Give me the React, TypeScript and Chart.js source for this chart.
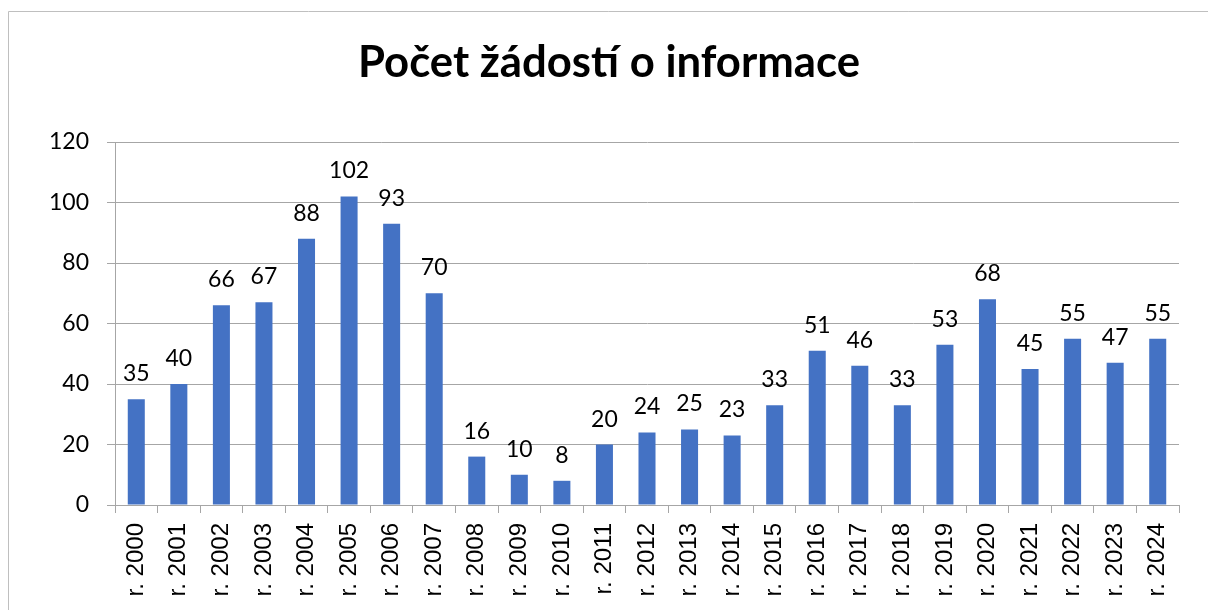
import React, { useEffect, useRef } from "react";
import { Chart, registerables } from "chart.js";

Chart.register(...registerables);

const categories = [
  "r. 2000", "r. 2001", "r. 2002", "r. 2003", "r. 2004", "r. 2005", "r. 2006",
  "r. 2007", "r. 2008", "r. 2009", "r. 2010", "r. 2011", "r. 2012", "r. 2013",
  "r. 2014", "r. 2015", "r. 2016", "r. 2017", "r. 2018", "r. 2019", "r. 2020",
  "r. 2021", "r. 2022", "r. 2023", "r. 2024",
];
const values = [35, 40, 66, 67, 88, 102, 93, 70, 16, 10, 8, 20, 24, 25, 23, 33, 51, 46, 33, 53, 68, 45, 55, 47, 55];
const titleText = "Počet žádostí o informace";
const yMin = 0;
const yMax = 120;
const yStep = 20;

const LABEL_FONT = "Lato, 'Open Sans', sans-serif";
const AXIS_FONT = "'Liberation Sans', Arial, sans-serif";

const decorPlugin = {
  id: "decor",
  beforeDraw(chart: any) {
    const ctx = chart.ctx;
    ctx.save();
    ctx.fillStyle = "#ffffff";
    ctx.fillRect(0, 0, chart.width, chart.height);
    ctx.strokeStyle = "#bfbfbf";
    ctx.lineWidth = 1;
    ctx.beginPath();
    ctx.moveTo(8.5, chart.height + 2);
    ctx.lineTo(8.5, 11.5);
    ctx.lineTo(chart.width + 2, 11.5);
    ctx.stroke();
    // title
    let size = 40;
    ctx.font = `bold ${size}px ${LABEL_FONT}`;
    const w = ctx.measureText(titleText).width;
    size = size * (502 / w);
    ctx.font = `bold ${size}px ${LABEL_FONT}`;
    ctx.fillStyle = "#000000";
    ctx.textAlign = "center";
    ctx.textBaseline = "alphabetic";
    ctx.fillText(titleText, 609, 77);
    ctx.restore();
  },
  afterDatasetsDraw(chart: any) {
    const ctx = chart.ctx;
    const meta = chart.getDatasetMeta(0);
    ctx.save();
    ctx.font = `23px ${LABEL_FONT}`;
    ctx.fillStyle = "#000000";
    ctx.textAlign = "center";
    ctx.textBaseline = "alphabetic";
    meta.data.forEach((bar: any, i: number) => {
      ctx.fillText(String(values[i]), bar.x, bar.y - 18);
    });
    ctx.restore();
  },
};

export default function App() {
  const ref = useRef<HTMLCanvasElement | null>(null);
  useEffect(() => {
    if (!ref.current) return;
    const chart = new Chart(ref.current, {
      type: "bar",
      data: {
        labels: categories,
        datasets: [
          {
            data: values,
            backgroundColor: "#4472C4",
            borderWidth: 0,
            barPercentage: 0.5,
            categoryPercentage: 0.8,
          },
        ],
      },
      options: {
        animation: false,
        responsive: false,
        maintainAspectRatio: false,
        events: [],
        layout: { padding: { top: 142, right: 29, left: 0, bottom: 0 } },
        plugins: {
          legend: { display: false },
          title: { display: false },
          tooltip: { enabled: false },
        },
        scales: {
          x: {
            grid: {
              display: true,
              drawOnChartArea: false,
              drawTicks: true,
              tickLength: 8,
              color: "#a6a6a6",
              offset: true,
            },
            border: { display: true, color: "#a6a6a6" },
            ticks: {
              autoSkip: false,
              minRotation: 90,
              maxRotation: 90,
              padding: 10,
              color: "#000000",
              font: { family: AXIS_FONT, size: 24 },
            },
            afterFit(scale: any) {
              scale.height = 105;
            },
          },
          y: {
            min: yMin,
            max: yMax,
            ticks: {
              stepSize: yStep,
              padding: 18,
              color: "#000000",
              font: { family: LABEL_FONT, size: 23 },
            },
            grid: {
              color: "#a6a6a6",
              drawTicks: true,
              tickLength: 8,
            },
            border: { display: true, color: "#a6a6a6" },
            afterFit(scale: any) {
              scale.width = 115;
            },
          },
        },
      },
      plugins: [decorPlugin],
    });
    return () => chart.destroy();
  }, []);
  return (
    <div style={{ position: "fixed", left: 0, top: 0, width: 1208, height: 610, background: "#fff" }}>
      <canvas ref={ref} width={1208} height={610} style={{ width: 1208, height: 610, display: "block" }} />
    </div>
  );
}
